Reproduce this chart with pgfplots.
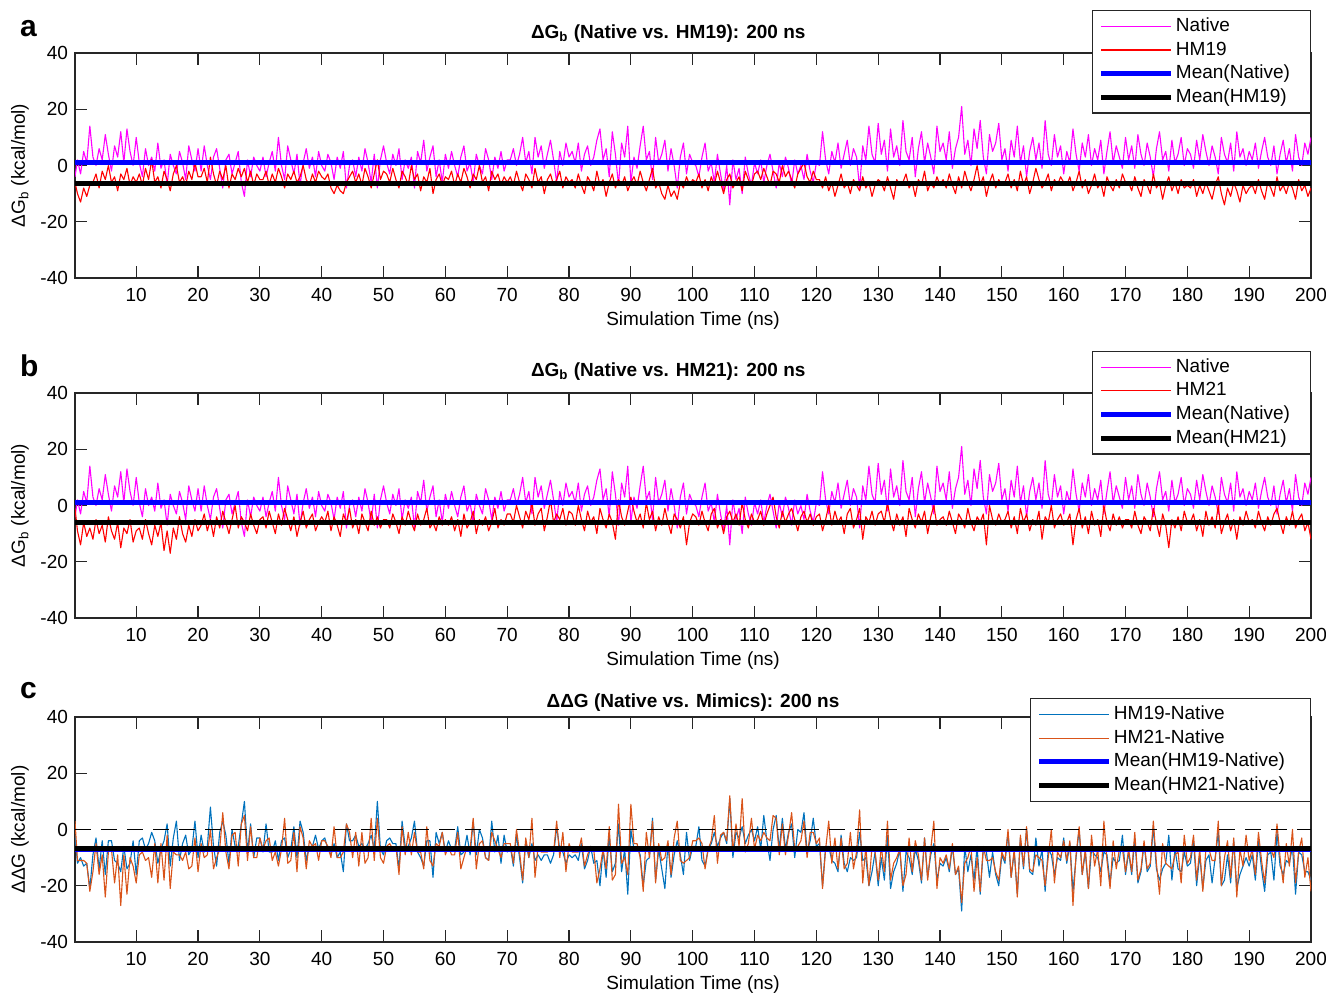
\documentclass[border=0pt]{standalone}
\usepackage{fontspec}
\setmainfont{Liberation Sans}
\usepackage{pgfplots}
\usepackage{pgfplotstable}
\pgfplotsset{compat=1.18}

\definecolor{mmag}{rgb}{1,0,1}
\definecolor{mred}{rgb}{1,0,0}
\definecolor{mbl}{rgb}{0,0,1}
\definecolor{mblue}{rgb}{0,0.447,0.741}
\definecolor{morange}{rgb}{0.85,0.325,0.098}
\definecolor{axgray}{rgb}{0.15,0.15,0.15}

% binding free energy traces, kcal/mol, every 0.5 ns
\pgfplotstableread{
t nat h19 h21 d19 d21
0.1 -4 -6 -1 -2 3
0.5 2 -10 -9 -12 -11
1 -3 -13 -14 -10 -11
1.5 5 -8 -6 -13 -11
2 1 -11 -11 -12 -12
2.5 14 -7 -8 -21 -22
3 3 -6 -12 -9 -15
3.5 0 -3 -5 -3 -5
4 6 -8 -10 -14 -16
4.5 2 -2 -7 -4 -9
5 11 -5 -13 -16 -24
5.5 4 0 -4 -4 -8
6 -2 -6 -9 -4 -7
6.5 7 -4 -12 -11 -19
7 3 -9 -6 -12 -9
7.5 12 -3 -15 -15 -27
8 1 -5 -8 -6 -9
8.5 13 -1 -10 -14 -23
9 5 -7 -5 -12 -10
9.5 0 -4 -13 -4 -13
10 10 -6 -9 -16 -19
10.5 1 -3 -8 -4 -9
11 -4 -7 -12 -3 -8
11.5 6 -1 -5 -7 -11
12 0 -5 -10 -5 -10
12.5 3 2 -14 -1 -17
13 -2 -6 -7 -4 -5
13.5 8 -4 -11 -12 -19
14 -1 -8 -6 -7 -5
14.5 2 -2 -16 -4 -18
15 -7 -5 -9 2 -2
15.5 4 -9 -17 -13 -21
16 0 -3 -8 -3 -8
16.5 -3 0 -12 3 -9
17 5 -6 -4 -11 -9
17.5 1 -4 -10 -5 -11
18 -5 -7 -13 -2 -8
18.5 7 -2 -7 -9 -14
19 2 -5 -11 -7 -13
19.5 -2 1 -5 3 -3
20 6 -4 -9 -10 -15
20.5 -2 -4 -7 -2 -5
21 7 -1 -3 -8 -10
21.5 0 -6 -9 -6 -9
22 -5 3 -5 8 0
22.5 3 -3 -11 -6 -14
23 6 -7 -4 -13 -10
23.5 -1 -2 -8 -1 -7
24 -8 -5 -2 3 6
24.5 2 0 -6 -2 -8
25 4 -8 -10 -12 -14
25.5 -3 -3 -5 0 -2
26 1 -5 0 -6 -1
26.5 5 -1 -8 -6 -13
27 -6 -4 -4 2 2
27.5 -11 -1 -6 10 5
28 2 -6 -9 -8 -11
28.5 -4 -2 -3 2 1
29 3 -7 -7 -10 -10
29.5 0 -3 -10 -3 -10
30 -2 -5 -5 -3 -3
30.5 3 -5 -4 -8 -7
31 -4 -2 -8 2 -4
31.5 1 -7 -2 -8 -3
32 5 -3 -6 -8 -11
32.5 -2 -6 -10 -4 -8
33 10 -1 -3 -11 -13
33.5 0 -4 -7 -4 -7
34 -5 -8 -1 -3 4
34.5 7 -3 -5 -10 -12
35 2 -5 -9 -7 -11
35.5 -3 -2 -4 1 -1
36 4 -6 -11 -10 -15
36.5 -7 -4 -6 3 1
37 1 0 -2 -1 -3
37.5 6 -5 -8 -11 -14
38 -1 -7 -5 -6 -4
38.5 3 -3 -3 -6 -6
39 -4 -6 -9 -2 -5
39.5 5 -2 -6 -7 -11
40 0 -4 -4 -4 -4
40.5 -2 -5 -6 -3 -4
41 4 -3 -2 -7 -6
41.5 1 -8 -9 -9 -10
42 -5 -10 -4 -5 1
42.5 3 -7 -7 -10 -10
43 -1 -9 -11 -8 -10
43.5 5 -10 -3 -15 -8
44 -8 -6 -6 2 2
44.5 0 -4 -1 -4 -1
45 2 -2 -8 -4 -10
45.5 -4 -6 -5 -2 -1
46 3 -3 -10 -6 -13
46.5 -2 -7 -3 -5 -1
47 6 -1 -6 -7 -12
47.5 1 -4 -9 -5 -10
48 -6 -8 -2 -2 4
48.5 4 -3 -7 -7 -11
49 -8 2 -4 10 4
49.5 2 -5 -8 -7 -10
50 7 -2 -5 -9 -12
50.5 1 -3 -5 -4 -6
51 -3 -6 -8 -3 -5
51.5 4 -1 -3 -5 -7
52 0 -5 -6 -5 -6
52.5 6 -8 -10 -14 -16
53 -5 -2 -4 3 1
53.5 2 -4 -7 -6 -9
54 -1 -7 -2 -6 -1
54.5 3 0 -6 -3 -9
55 -8 -5 -9 3 -1
55.5 5 -3 -3 -8 -8
56 1 -9 -7 -10 -8
56.5 9 -4 -5 -13 -14
57 -2 -6 -1 -4 1
57.5 3 -1 -8 -4 -11
58 7 -10 -6 -17 -13
58.5 -4 -5 -9 -1 -5
59 2 -3 -4 -5 -6
59.5 -6 -7 -7 -1 -1
60 4 -4 -5 -8 -9
60.5 -1 -5 -7 -4 -6
61 5 -2 -4 -7 -9
61.5 0 -7 -9 -7 -9
62 -4 -3 -5 1 -1
62.5 3 -6 -11 -9 -14
63 7 -1 -3 -8 -10
63.5 -2 -4 -8 -2 -6
64 1 -8 -6 -9 -7
64.5 -6 -3 -2 3 4
65 4 -5 -10 -9 -14
65.5 0 0 -5 0 -5
66 -3 -6 -7 -3 -4
66.5 6 -4 -4 -10 -10
67 2 -9 -9 -11 -11
67.5 -5 -2 -6 3 -1
68 3 -5 -1 -8 -4
68.5 -1 -3 -8 -2 -7
69 5 -7 -5 -12 -10
69.5 -2 -4 -7 -2 -5
70 2 -6 -3 -8 -5
70.5 2 -4 -3 -6 -5
71 6 -7 -6 -13 -12
71.5 0 -2 0 -2 0
72 4 -6 -4 -10 -8
72.5 10 -9 -8 -19 -18
73 1 -3 -2 -4 -3
73.5 5 -5 -5 -10 -10
74 -3 -8 1 -5 4
74.5 10 -1 -7 -11 -17
75 3 -6 -3 -9 -6
75.5 7 -4 -1 -11 -8
76 -1 -10 -9 -9 -8
76.5 4 -5 -4 -9 -8
77 9 -3 2 -12 -7
77.5 2 -7 -6 -9 -8
78 -6 -5 -3 1 3
78.5 5 -2 -5 -7 -10
79 0 -8 -1 -8 -1
79.5 8 -4 -7 -12 -15
80 3 -6 -2 -9 -5
80.5 5 -5 -3 -10 -8
81 1 -8 -7 -9 -8
81.5 8 -3 0 -11 -8
82 -2 -7 -5 -5 -3
82.5 4 -10 -9 -14 -13
83 7 -4 -2 -11 -9
83.5 0 -6 -6 -6 -6
84 3 -9 -4 -12 -7
84.5 9 -2 -10 -11 -19
85 13 -7 -1 -20 -14
85.5 2 -5 -5 -7 -7
86 6 -11 -8 -17 -14
86.5 -4 -6 -3 -2 1
87 12 -3 -6 -15 -18
87.5 4 -8 -12 -12 -16
88 -7 -5 2 2 9
88.5 8 -7 -4 -15 -12
89 3 -4 -7 -7 -10
89.5 14 -9 -2 -23 -16
90 -6 -6 3 0 9
90.5 3 -4 -2 -7 -5
91 -1 -7 -6 -6 -5
91.5 7 -2 -3 -9 -10
92 14 -6 -8 -20 -22
92.5 2 -9 1 -11 -1
93 5 -5 -5 -10 -10
93.5 -5 -1 -2 4 3
94 10 -8 -9 -18 -19
94.5 1 -6 -4 -7 -5
95 4 -10 -7 -14 -11
95.5 9 -12 -1 -21 -10
96 -2 -7 -6 -5 -4
96.5 6 -11 -10 -17 -16
97 0 -9 -3 -9 -3
97.5 -8 -12 -5 -4 3
98 3 -6 -8 -9 -11
98.5 8 -8 -4 -16 -12
99 -3 -4 -14 -1 -11
99.5 4 -7 -6 -11 -10
100 1 -5 -3 -6 -4
100.5 0 -6 -4 -6 -4
101 -4 -3 -7 1 -3
101.5 3 -8 -2 -11 -5
102 8 -5 -6 -13 -14
102.5 -2 -9 -9 -7 -7
103 1 -4 -3 -5 -4
103.5 -6 -7 -1 -1 5
104 4 -2 -8 -6 -12
104.5 -3 -6 -5 -3 -2
105 -9 -10 -10 -1 -1
105.5 0 -5 -4 -5 -4
106 -14 -3 -2 11 12
106.5 2 -8 -6 -10 -8
107 -5 -6 -3 -1 2
107.5 -1 -4 -7 -3 -6
108 -10 -9 1 1 11
108.5 3 -2 -5 -5 -8
109 -3 -5 -8 -2 -5
109.5 -7 -7 -3 0 4
110 1 -3 -6 -4 -7
110.5 -3 -2 -5 1 -2
111 2 -5 -2 -7 -4
111.5 -6 -1 -7 5 -1
112 0 -4 -3 -4 -3
112.5 4 -7 0 -11 -4
113 -2 -2 3 0 5
113.5 -8 -3 -4 5 4
114 1 -6 -8 -7 -9
114.5 -4 0 -2 4 2
115 3 -4 -6 -7 -9
115.5 -1 -2 -3 -1 -2
116 -7 -5 -1 2 6
116.5 2 -8 -5 -10 -7
117 -3 -3 -9 0 -6
117.5 0 -1 -4 -1 -4
118 -5 1 -2 6 3
118.5 4 -4 -6 -8 -10
119 -2 -6 -3 -4 -1
119.5 -6 -2 -7 4 -1
120 1 -5 -4 -6 -5
120.5 0 -5 -3 -5 -3
121 12 -8 -9 -20 -21
121.5 2 -4 -5 -6 -7
122 -3 -9 0 -6 3
122.5 5 -6 -7 -11 -12
123 1 -11 -2 -12 -3
123.5 8 -7 -6 -15 -14
124 -1 -3 -4 -2 -3
124.5 4 -8 -10 -12 -14
125 9 -6 -3 -15 -12
125.5 0 -10 -1 -10 -1
126 6 -5 -8 -11 -14
126.5 3 -7 -5 -10 -8
127 -8 -9 -1 -1 7
127.5 7 -4 -12 -11 -19
128 2 -8 -4 -10 -6
128.5 14 -6 -6 -20 -20
129 4 -11 -2 -15 -6
129.5 1 -7 -7 -8 -8
130 15 -5 -3 -20 -18
130.5 4 -6 -2 -10 -6
131 9 -9 -6 -18 -15
131.5 -2 -4 1 -2 3
132 13 -8 -5 -21 -18
132.5 3 -12 -9 -15 -12
133 7 -5 -3 -12 -10
133.5 0 -7 -7 -7 -7
134 16 -6 -4 -22 -20
134.5 5 -3 -11 -8 -16
135 2 -8 -1 -10 -3
135.5 10 -6 -5 -16 -15
136 -4 -11 -8 -7 -4
136.5 6 -5 -3 -11 -9
137 12 -7 -6 -19 -18
137.5 1 -2 -2 -3 -3
138 8 -9 -10 -17 -18
138.5 3 -6 -4 -9 -7
139 -3 -8 0 -5 3
139.5 14 -4 -7 -18 -21
140 5 -7 -5 -12 -10
140.5 8 -5 -4 -13 -12
141 2 -8 -7 -10 -9
141.5 12 -3 -2 -15 -14
142 -1 -7 -6 -6 -5
142.5 6 -10 -10 -16 -16
143 10 -4 -3 -14 -13
143.5 21 -8 -5 -29 -26
144 4 -2 -8 -6 -12
144.5 9 -6 -1 -15 -10
145 0 -9 -6 -9 -6
145.5 13 -5 -9 -18 -22
146 6 0 -4 -6 -10
146.5 16 -7 -6 -23 -22
147 3 -4 -3 -7 -6
147.5 -3 -11 -14 -8 -11
148 11 -6 0 -17 -11
148.5 5 -3 -5 -8 -10
149 8 -8 -7 -16 -15
149.5 15 -5 -3 -20 -18
150 2 -7 -6 -9 -8
150.5 6 -6 -5 -12 -11
151 -2 -3 -2 -1 0
151.5 9 -8 -8 -17 -17
152 3 -5 -4 -8 -7
152.5 14 -9 -10 -23 -24
153 1 -2 -1 -3 -2
153.5 7 -7 -6 -14 -13
154 -4 -4 -3 0 1
154.5 5 -10 -9 -15 -14
155 10 -6 -5 -16 -15
155.5 2 -1 -7 -3 -9
156 8 -5 -2 -13 -10
156.5 -1 -8 -12 -7 -11
157 16 -6 -4 -22 -20
157.5 4 -3 -6 -7 -10
158 0 -9 0 -9 0
158.5 11 -5 -8 -16 -19
159 3 -7 -5 -10 -8
159.5 7 -4 -3 -11 -10
160 -3 -6 -7 -3 -4
160.5 5 -7 -6 -12 -11
161 1 -4 -3 -5 -4
161.5 13 -9 -14 -22 -27
162 4 -6 -5 -10 -9
162.5 -2 -2 -1 0 1
163 8 -8 -8 -16 -16
163.5 3 -5 -4 -8 -7
164 11 -10 -10 -21 -21
164.5 0 -7 -2 -7 -2
165 6 -3 -7 -9 -13
165.5 2 -8 -5 -10 -7
166 9 -6 -11 -15 -20
166.5 -3 -11 0 -8 3
167 5 -4 -6 -9 -11
167.5 12 -7 -9 -19 -21
168 1 -9 -3 -10 -4
168.5 7 -5 -7 -12 -14
169 3 -8 -4 -11 -7
169.5 -1 -3 -8 -2 -7
170 10 -6 -5 -16 -15
170.5 2 -6 -5 -8 -7
171 7 -9 -8 -16 -15
171.5 -1 -4 -2 -3 -1
172 11 -8 -7 -19 -18
172.5 4 -11 -10 -15 -14
173 0 -5 -4 -5 -4
173.5 8 -7 -6 -15 -14
174 3 -10 -9 -13 -12
174.5 -4 -3 -1 1 3
175 6 -8 -6 -14 -12
175.5 12 -6 -11 -18 -23
176 2 -12 -3 -14 -5
176.5 5 -7 -7 -12 -12
177 -2 -4 -15 -2 -13
177.5 9 -9 -5 -18 -14
178 1 -6 -8 -7 -9
178.5 4 -10 -4 -14 -8
179 10 -5 -9 -15 -19
179.5 0 -8 -2 -8 -2
180 6 -7 -6 -13 -12
180.5 4 -8 -6 -12 -10
181 -1 -5 -3 -4 -2
181.5 9 -11 -9 -20 -18
182 2 -7 -5 -9 -7
182.5 11 -10 -11 -21 -22
183 5 -6 -2 -11 -7
183.5 0 -9 -7 -9 -7
184 7 -12 -4 -19 -11
184.5 3 -7 -8 -10 -11
185 -3 -4 0 -1 3
185.5 10 -10 -10 -20 -20
186 4 -14 -6 -18 -10
186.5 1 -8 -3 -9 -4
187 8 -11 -9 -19 -17
187.5 -2 -6 -5 -4 -3
188 12 -9 -12 -21 -24
188.5 3 -13 -4 -16 -7
189 6 -7 -7 -13 -13
189.5 0 -10 -2 -10 -2
190 5 -8 -6 -13 -11
190.5 2 -7 -5 -9 -7
191 8 -10 -8 -18 -16
191.5 -1 -5 -2 -4 -1
192 5 -9 -6 -14 -11
192.5 10 -12 -9 -22 -19
193 3 -6 -4 -9 -7
193.5 0 -8 -7 -8 -7
194 7 -11 -3 -18 -10
194.5 -3 -4 -1 -1 2
195 4 -9 -6 -13 -10
195.5 9 -7 -10 -16 -19
196 1 -10 -4 -11 -5
196.5 6 -6 -7 -12 -13
197 -2 -8 -2 -6 0
197.5 11 -12 -8 -23 -19
198 3 -5 -5 -8 -8
198.5 0 -9 -3 -9 -3
199 8 -7 -9 -15 -17
199.5 4 -11 -6 -15 -10
200 10 -8 -12 -18 -22
}\dg

\newcommand{\fs}{\fontsize{9.5}{11}\selectfont}

\pgfplotsset{
  dgpanel/.style={
    scale only axis, width=618pt, height=112.5pt,
    xmin=0.1, xmax=200, ymin=-40, ymax=40,
    xtick={10,20,...,200}, ytick={-40,-20,...,40},
    tick align=inside, major tick length=6pt,
    axis line style={axgray, line width=0.6pt},
    tick style={axgray, line width=0.6pt},
    tick label style={font=\fs},
    xticklabel style={yshift=-1.5pt},
    /pgf/number format/assume math mode=true,
    label style={font=\fs},
    xlabel={Simulation Time (ns)},
    xlabel style={at={(axis description cs:0.5,-0.191)}, anchor=center},
    ylabel style={at={(axis description cs:-0.0445,0.5)}, anchor=center},
    title style={font=\fs\bfseries, anchor=base},
    legend cell align=left,
    legend style={font=\fs, draw=axgray, line width=0.6pt, anchor=north east,
      inner xsep=3pt, inner ysep=2pt, row sep=0pt,
      nodes={inner sep=1.2pt, text height=7.2pt, text depth=2.2pt}},
    legend image code/.code={\draw[#1] (0pt,0pt) -- (35pt,0pt);},
  },
  thinline/.style={line width=0.55pt, line join=round},
  meanline/.style={line width=2.5pt},
}

\begin{document}
\begin{tikzpicture}
\path[use as bounding box] (0,0) rectangle (663pt,-496pt);

\node[font=\fontsize{15}{18}\selectfont\bfseries, anchor=base west] at (6.5pt,-18pt) {a};
\node[font=\fontsize{15}{18}\selectfont\bfseries, anchor=base west] at (6.5pt,-188pt) {b};
\node[font=\fontsize{15}{18}\selectfont\bfseries, anchor=base west] at (6.5pt,-349pt) {c};

% panel a
\begin{axis}[dgpanel, at={(37.5pt,-26.5pt)}, anchor=north west,
  ylabel={ΔG\textsubscript{b} (kcal/mol)},
  title={ΔG\textsubscript{b} (Native vs. HM19): 200 ns},
  title style={at={(0.48,1)}, yshift=1.5pt},
  legend style={at={(1,1.191)}}]
\addplot[thinline, color=mmag] table[x=t, y=nat] {\dg};
\addlegendentry{Native}
\addplot[thinline, color=mred] table[x=t, y=h19] {\dg};
\addlegendentry{HM19}
\addplot[meanline, color=mbl] coordinates {(0.1,1.0) (200,1.0)};
\addlegendentry{Mean(Native)\rule{6pt}{0pt}}
\addplot[meanline, color=black] coordinates {(0.1,-6.3) (200,-6.3)};
\addlegendentry{Mean(HM19)}
\end{axis}

% panel b
\begin{axis}[dgpanel, at={(37.5pt,-196.5pt)}, anchor=north west,
  ylabel={ΔG\textsubscript{b} (kcal/mol)},
  title={ΔG\textsubscript{b} (Native vs. HM21): 200 ns},
  title style={at={(0.48,1)}, yshift=2.5pt},
  legend style={at={(1,1.187)}}]
\addplot[thinline, color=mmag] table[x=t, y=nat] {\dg};
\addlegendentry{Native}
\addplot[thinline, color=mred] table[x=t, y=h21] {\dg};
\addlegendentry{HM21}
\addplot[meanline, color=mbl] coordinates {(0.1,1.0) (200,1.0)};
\addlegendentry{Mean(Native)\rule{6pt}{0pt}}
\addplot[meanline, color=black] coordinates {(0.1,-5.9) (200,-5.9)};
\addlegendentry{Mean(HM21)}
\end{axis}

% panel c
\begin{axis}[dgpanel, at={(37.5pt,-358.5pt)}, anchor=north west,
  ylabel={ΔΔG (kcal/mol)},
  title={ΔΔG (Native vs. Mimics): 200 ns},
  title style={at={(0.5,1)}, yshift=-1pt},
  legend style={at={(1,1.084)}}]
\addplot[thinline, color=mblue] table[x=t, y=d19] {\dg};
\addlegendentry{HM19-Native}
\addplot[thinline, color=morange] table[x=t, y=d21] {\dg};
\addlegendentry{HM21-Native}
\addplot[black, line width=0.6pt, dash pattern=on 8pt off 5pt, forget plot] coordinates {(0.1,0) (200,0)};
\addplot[meanline, color=mbl] coordinates {(0.1,-7.0) (200,-7.0)};
\addlegendentry{Mean(HM19-Native)\rule{8.5pt}{0pt}}
\addplot[meanline, color=black] coordinates {(0.1,-6.7) (200,-6.7)};
\addlegendentry{Mean(HM21-Native)}
\end{axis}
\end{tikzpicture}
\end{document}
